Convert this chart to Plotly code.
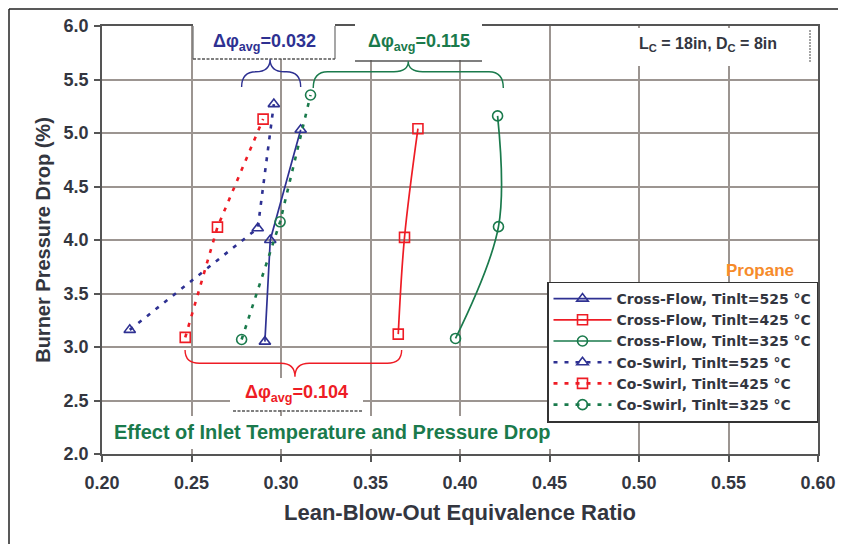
import plotly.graph_objects as go

# ---------------- data ----------------
cf525_x = [0.291, 0.294, 0.311]
cf525_y = [3.05, 4.00, 5.03]
cf425_x = [0.3655, 0.369, 0.3765]
cf425_y = [3.12, 4.025, 5.04]
cf325_x = [0.3975, 0.4215, 0.421]
cf325_y = [3.08, 4.125, 5.16]
cs525_x = [0.2155, 0.287, 0.296]
cs525_y = [3.16, 4.11, 5.27]
cs425_x = [0.2465, 0.2645, 0.290]
cs425_y = [3.09, 4.12, 5.13]
cs325_x = [0.278, 0.2995, 0.3165]
cs325_y = [3.07, 4.17, 5.355]

x_ticks = [0.20, 0.25, 0.30, 0.35, 0.40, 0.45, 0.50, 0.55, 0.60]
y_ticks = [2.0, 2.5, 3.0, 3.5, 4.0, 4.5, 5.0, 5.5, 6.0]

BLUE = "#2e3192"
RED = "#ee1c25"
GREEN = "#1a7a4c"
ORANGE = "#f68b2a"
TXT = "#33363f"
GRID = "#9c9591"
FONT = "Liberation Sans"

fig = go.Figure()

def add(x, y, name, color, sym, dash, shape):
    fig.add_trace(go.Scatter(
        x=x, y=y, name=name, mode="lines+markers",
        line=dict(color=color, width=1.7 if dash == "solid" else 2.6, dash=dash, shape=shape),
        marker=dict(symbol=sym, size=10, color=color, line=dict(width=1.6, color=color)),
    ))

add(cf525_x, cf525_y, "Cross-Flow, Tinlt=525 °C", BLUE, "triangle-up-open", "solid", "linear")
add(cf425_x, cf425_y, "Cross-Flow, Tinlt=425 °C", RED, "square-open", "solid", "spline")
add(cf325_x, cf325_y, "Cross-Flow, Tinlt=325 °C", GREEN, "circle-open", "solid", "spline")
add(cs525_x, cs525_y, "Co-Swirl, Tinlt=525 °C", BLUE, "triangle-up-open", "4px,7px", "linear")
add(cs425_x, cs425_y, "Co-Swirl, Tinlt=425 °C", RED, "square-open", "4px,7px", "linear")
add(cs325_x, cs325_y, "Co-Swirl, Tinlt=325 °C", GREEN, "circle-open", "4px,7px", "linear")

# plot area in (window) pixels: x 102..818, y 26..454
def PX(px):
    return (px - 102) / 716.0

def PY(py):
    return (454 - py) / 428.0

shapes = []

def rect(x0, y0, x1, y1):
    shapes.append(dict(type="rect", xref="paper", yref="paper", layer="above",
                       x0=PX(x0), x1=PX(x1), y0=PY(y1), y1=PY(y0),
                       fillcolor="white", line=dict(width=0)))

def seg(x0, y0, x1, y1, color="#555", dash="solid", width=1.3):
    shapes.append(dict(type="line", xref="paper", yref="paper", layer="above",
                       x0=PX(x0), x1=PX(x1), y0=PY(y0), y1=PY(y1),
                       line=dict(color=color, width=width, dash=dash)))

# boxes around labels
rect(193, 22, 335, 59)
seg(193, 26, 193, 59, "#777")
seg(335, 26, 335, 59, "#777")
seg(193, 59, 335, 59, "#555", "3px,1.5px")
rect(355, 22, 482, 60)
seg(355, 61, 482, 61, "#555", "solid", 1.5)
rect(230, 378, 363, 410)
seg(233, 411, 363, 411, "#555", "3px,1.5px")
rect(605, 28, 812, 66)
seg(810, 30, 810, 63, "#888", "2px,1px", 1.5)
rect(108, 416, 556, 449)

# outer figure border
seg(9, 9, 9, 560, "#222", "solid", 1.5)
seg(9, 9, 860, 9, "#222", "solid", 1.5)

# braces (data coordinates)
def brace(x0, x1, xt, yend, yarm, ytip, color):
    r = 0.008
    p = (f"M {x0},{yend} Q {x0},{yarm} {x0+r},{yarm} L {xt-r},{yarm} "
         f"Q {xt},{yarm} {xt},{ytip} Q {xt},{yarm} {xt+r},{yarm} "
         f"L {x1-r},{yarm} Q {x1},{yarm} {x1},{yend}")
    shapes.append(dict(type="path", xref="x", yref="y", path=p, layer="above",
                       line=dict(color=color, width=1.4)))

brace(0.2780, 0.3110, 0.2939, 5.43, 5.573, 5.69, BLUE)
brace(0.3180, 0.4242, 0.3711, 5.42, 5.573, 5.67, GREEN)
brace(0.2464, 0.3674, 0.3078, 2.972, 2.848, 2.722, RED)

def ann(px, py, text, color, size):
    return dict(xref="paper", yref="paper", x=PX(px), y=PY(py), text=text,
                showarrow=False, xanchor="center", yanchor="middle",
                font=dict(family=FONT, size=size, color=color, weight="bold"))

annotations = [
    ann(264, 42, "Δφ<sub>avg</sub>=0.032", BLUE, 18),
    ann(419, 42, "Δφ<sub>avg</sub>=0.115", GREEN, 18),
    ann(296, 393, "Δφ<sub>avg</sub>=0.104", RED, 18),
    ann(332, 432, "Effect of Inlet Temperature and Pressure Drop", GREEN, 20),
    ann(760, 270, "Propane", ORANGE, 17),
    ann(708, 45, "L<sub>C</sub> = 18in, D<sub>C</sub> = 8in", TXT, 16),
]

# the page adds an 8px body margin, so the figure is 8px smaller each way
fig.update_layout(
    width=838, height=536,
    margin=dict(l=94, r=28, t=18, b=90, autoexpand=False),
    paper_bgcolor="white", plot_bgcolor="white",
    shapes=shapes, annotations=annotations,
    showlegend=True,
    legend=dict(x=1.0, xanchor="right", y=PY(352), yanchor="middle",
                bgcolor="white", bordercolor="#333", borderwidth=1.5,
                font=dict(family="DejaVu Sans", size=14, color=TXT, weight="bold"),
                itemwidth=58, tracegroupgap=0),
)

fig.update_xaxes(
    range=[0.2, 0.6], tickvals=x_ticks, ticktext=[f"{v:.2f}" for v in x_ticks],
    showgrid=True, gridcolor=GRID, gridwidth=1.6,
    showline=True, linecolor="#555", linewidth=1.6, mirror=True,
    ticks="outside", ticklen=6, tickcolor="#555", tickwidth=1.5,
    ticklabelstandoff=6, zeroline=False,
    tickfont=dict(family=FONT, size=18, color=TXT, weight="bold"),
    title=dict(text="Lean-Blow-Out Equivalence Ratio", standoff=12,
               font=dict(family=FONT, size=22, color=TXT, weight="bold")),
)
fig.update_yaxes(
    range=[2.0, 6.0], tickvals=y_ticks, ticktext=[f"{v:.1f}" for v in y_ticks],
    showgrid=True, gridcolor=GRID, gridwidth=1.6,
    showline=True, linecolor="#555", linewidth=1.6, mirror=True,
    ticks="outside", ticklen=6, tickcolor="#555", tickwidth=1.5,
    ticklabelstandoff=2, zeroline=False,
    tickfont=dict(family=FONT, size=18, color=TXT, weight="bold"),
    title=dict(text="Burner Pressure Drop (%)", standoff=8,
               font=dict(family=FONT, size=20, color=TXT, weight="bold")),
)

fig.write_html("out.html")
